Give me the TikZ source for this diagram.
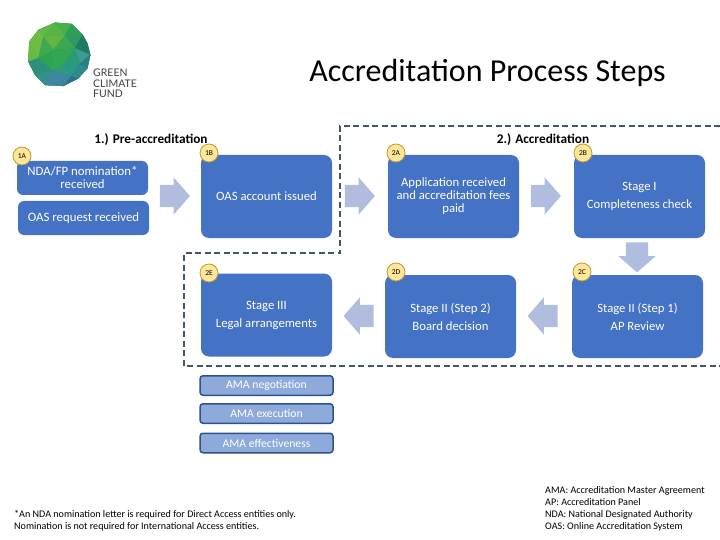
\documentclass[tikz,border=0pt]{standalone}
\usepackage{fontspec}
\setmainfont{Carlito}
\newfontfamily\logofont{Lato}
\usetikzlibrary{shapes.arrows}
\definecolor{boxblue}{HTML}{4472C4}
\definecolor{pale}{HTML}{B0BDDE}
\definecolor{amablue}{HTML}{8EAADB}
\definecolor{amaline}{HTML}{2F528F}
\definecolor{frameline}{HTML}{44546A}
\definecolor{badgefill}{HTML}{FFE699}
\definecolor{badgeline}{HTML}{BF9A30}
\tikzset{
	bigbox/.style={fill=boxblue,rounded corners=8pt,minimum width=131pt,minimum height=83pt,inner sep=0pt,align=center,text=white,font=\fontsize{12.7}{13}\selectfont},
	smallbox/.style={fill=boxblue,rounded corners=6pt,minimum width=131pt,minimum height=34pt,inner sep=0pt,align=center,text=white,font=\fontsize{12.8}{13}\selectfont},
	amabox/.style={fill=amablue,draw=amaline,line width=1.5pt,rounded corners=3pt,minimum width=133pt,minimum height=19.5pt,inner sep=0pt,text=white,font=\fontsize{11.7}{12}\selectfont},
	badge/.style={circle,fill=badgefill,draw=badgeline,line width=.8pt,minimum size=18pt,inner sep=0pt,font=\fontsize{7.5}{8}\selectfont},
	blockarrow/.style={single arrow,fill=pale,minimum height=30pt,minimum width=37pt,single arrow head extend=7.5pt,single arrow tip angle=98,inner xsep=0pt,inner ysep=11pt,text height=0pt,text depth=0pt},
	facet/.style={line width=.2pt},
	heading/.style={font=\bfseries\fontsize{13.3}{14}\selectfont},
	note/.style={align=left,inner sep=0pt,font=\fontsize{10.1}{12}\selectfont},
}
\begin{document}
\begin{tikzpicture}[x=1pt,y=-1pt]
	\useasboundingbox (0,0) rectangle (720,540);
	% logo
	\begin{scope}[x=.3333pt,y=-.3333pt]
		\filldraw[facet,color=green!60!black,fill=green!60!black] (165,68)--(215,72)--(248,105)--(262,130)--(271,165)--(262,205)--(235,235)--(190,258)--(135,255)--(105,225)--(85,185)--(88,125)--(115,90)--cycle;
		\definecolor{fc}{HTML}{62B84A}\filldraw[facet,color=fc] (115,90)--(165,68)--(130,110)--cycle;
		\definecolor{fc}{HTML}{58B348}\filldraw[facet,color=fc] (165,68)--(195,105)--(130,110)--cycle;
		\definecolor{fc}{HTML}{4AAE4A}\filldraw[facet,color=fc] (165,68)--(215,72)--(195,105)--cycle;
		\definecolor{fc}{HTML}{2F9F57}\filldraw[facet,color=fc] (215,72)--(248,105)--(195,105)--cycle;
		\definecolor{fc}{HTML}{2C9A62}\filldraw[facet,color=fc] (248,105)--(225,145)--(195,105)--cycle;
		\definecolor{fc}{HTML}{1D7C67}\filldraw[facet,color=fc] (248,105)--(262,130)--(271,165)--(225,145)--cycle;
		\definecolor{fc}{HTML}{63B546}\filldraw[facet,color=fc] (130,110)--(195,105)--(160,150)--cycle;
		\definecolor{fc}{HTML}{3CA853}\filldraw[facet,color=fc] (195,105)--(225,145)--(160,150)--cycle;
		\definecolor{fc}{HTML}{6DBD45}\filldraw[facet,color=fc] (115,90)--(130,110)--(115,175)--(88,125)--cycle;
		\definecolor{fc}{HTML}{3EA94F}\filldraw[facet,color=fc] (130,110)--(160,150)--(115,175)--cycle;
		\definecolor{fc}{HTML}{66BA46}\filldraw[facet,color=fc] (88,125)--(115,175)--(85,185)--cycle;
		\definecolor{fc}{HTML}{33A654}\filldraw[facet,color=fc] (160,150)--(225,145)--(190,195)--cycle;
		\definecolor{fc}{HTML}{3D9E8E}\filldraw[facet,color=fc] (225,145)--(271,165)--(240,190)--cycle;
		\definecolor{fc}{HTML}{2B9A78}\filldraw[facet,color=fc] (225,145)--(240,190)--(190,195)--cycle;
		\definecolor{fc}{HTML}{2DA354}\filldraw[facet,color=fc] (115,175)--(160,150)--(155,212)--cycle;
		\definecolor{fc}{HTML}{34A755}\filldraw[facet,color=fc] (160,150)--(190,195)--(155,212)--cycle;
		\definecolor{fc}{HTML}{2E8F7D}\filldraw[facet,color=fc] (85,185)--(115,175)--(155,212)--(105,225)--cycle;
		\definecolor{fc}{HTML}{2C9688}\filldraw[facet,color=fc] (190,195)--(240,190)--(215,228)--cycle;
		\definecolor{fc}{HTML}{2D9A82}\filldraw[facet,color=fc] (155,212)--(190,195)--(215,228)--cycle;
		\definecolor{fc}{HTML}{33908F}\filldraw[facet,color=fc] (105,225)--(155,212)--(135,255)--cycle;
		\definecolor{fc}{HTML}{3F85A0}\filldraw[facet,color=fc] (155,212)--(215,228)--(190,258)--(135,255)--cycle;
		\definecolor{fc}{HTML}{2B6F93}\filldraw[facet,color=fc] (215,228)--(235,235)--(190,258)--cycle;
		\definecolor{fc}{HTML}{2F8A8B}\filldraw[facet,color=fc] (240,190)--(262,205)--(235,235)--(215,228)--cycle;
		\definecolor{fc}{HTML}{2A7F86}\filldraw[facet,color=fc] (271,165)--(262,205)--(240,190)--cycle;
	\end{scope}
	\node[anchor=north west,inner sep=0pt,align=left,text=black!75,font=\logofont\fontsize{10.5}{10.7}\selectfont] (logotext) at (93,68.5) {GREEN\\CLIMATE\\FUND};
	\node[font=\fontsize{32}{34}\selectfont] (title) at (487.5,72.5) {Accreditation Process Steps};
	% dashed frame
	\draw[frameline,line width=2pt,dash pattern=on 6pt off 3.5pt] (720,126) -- (340,126) -- (340,253) -- (184,253) -- (184,366) -- (720,366);
	\node[heading] (pre) at (151,139.5) {1.) Pre-accreditation};
	\node[heading] (acc) at (543,139.5) {2.) Accreditation};
	% boxes
	\node[smallbox] (1A) at (82.5,178) {NDA/FP nomination*\\received};
	\node[smallbox] (1Ab) at (83.5,218) {OAS request received};
	\node[bigbox] (1B) at (266.5,196.5) {OAS account issued};
	\node[bigbox] (2A) at (453.5,196.5) {Application received\\and accreditation fees\\paid};
	\node[bigbox] (2B) at (639.5,196.5) {Stage I\\[5pt]Completeness check};
	\node[bigbox] (2C) at (637.5,316.5) {Stage II (Step 1)\\[5pt]AP Review};
	\node[bigbox] (2D) at (450.5,316.5) {Stage II (Step 2)\\[5pt]Board decision};
	\node[bigbox] (2E) at (266.5,315) {Stage III\\[5pt]Legal arrangements};
	\node[amabox] (neg) at (266.5,385.5) {AMA negotiation};
	\node[amabox] (exe) at (266.5,413.5) {AMA execution};
	\node[amabox] (eff) at (266.5,443) {AMA effectiveness};
	% arrows
	\node[blockarrow] (a1) at (170,196) {};
	\node[blockarrow] (a2) at (355,196) {};
	\node[blockarrow] (a3) at (541,196) {};
	\node[blockarrow,rotate=-90] (a4) at (637,252.5) {};
	\node[blockarrow,rotate=180] (a5) at (547.5,316) {};
	\node[blockarrow,rotate=180] (a6) at (363.5,316) {};
	% badges
	\node[badge] (b1A) at (22,156) {1A};
	\node[badge] (b1B) at (209,153) {1B};
	\node[badge] (b2A) at (396,153) {2A};
	\node[badge] (b2B) at (583,153) {2B};
	\node[badge] (b2C) at (582,272) {2C};
	\node[badge] (b2D) at (396,272) {2D};
	\node[badge] (b2E) at (209,273) {2E};
	% notes
	\node[note,anchor=north west] (foot) at (14,510) {*An NDA nomination letter is required for Direct Access entities only.\\Nomination is not required for International Access entities.};
	\node[note,anchor=north west] (terms) at (545,486) {AMA: Accreditation Master Agreement\\AP: Accreditation Panel\\NDA: National Designated Authority\\OAS: Online Accreditation System};
\end{tikzpicture}
\end{document}
